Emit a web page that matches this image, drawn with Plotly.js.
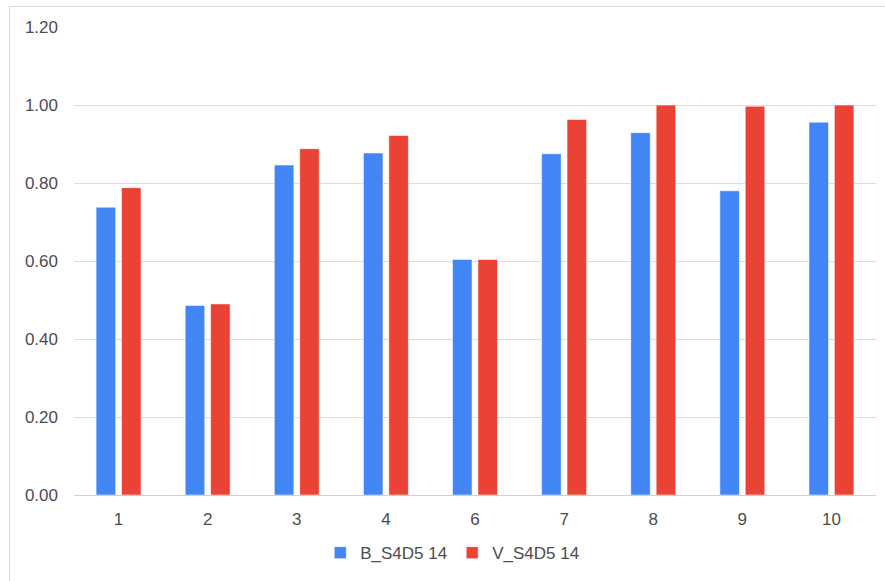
<!DOCTYPE html>
<html>
<head>
<meta charset="utf-8">
<script src="https://cdn.plot.ly/plotly-3.0.1.min.js"></script>
<style>
html,body{margin:0;padding:0;background:#fff;}
#wrap{position:relative;width:885px;height:581px;overflow:hidden;}
#frame{position:absolute;left:9px;top:6px;width:900px;height:620px;border:1px solid #d9d9d9;box-sizing:border-box;}
#chart{position:absolute;left:0;top:0;width:885px;height:581px;}
</style>
</head>
<body>
<div id="wrap"><div id="frame"></div><div id="chart"></div></div>
<script>
const categories = ["1","2","3","4","6","7","8","9","10"];
const seriesB = [0.738, 0.486, 0.846, 0.877, 0.604, 0.875, 0.929, 0.780, 0.956];
const seriesV = [0.788, 0.490, 0.888, 0.922, 0.604, 0.963, 1.000, 0.997, 1.000];
const seriesNames = ["B_S4D5 14", "V_S4D5 14"];
const yTicks = [0, 0.2, 0.4, 0.6, 0.8, 1.0, 1.2];
const yTickText = ["0.00", "0.20", "0.40", "0.60", "0.80", "1.00", "1.20"];

const font = {family: "Liberation Sans, Arial, sans-serif", size: 17, color: "#4d4d4d"};
const traces = [
  {type: "bar", name: seriesNames[0], x: categories, y: seriesB,
   marker: {color: "#4285F4", line: {color: "rgba(255,255,255,0.55)", width: 1}}},
  {type: "bar", name: seriesNames[1], x: categories, y: seriesV,
   marker: {color: "#EA4335", line: {color: "rgba(255,255,255,0.55)", width: 1}}}
];
const layout = {
  width: 885, height: 581,
  margin: {l: 74, r: 9, t: 27, b: 85.5, pad: 0, autoexpand: false},
  paper_bgcolor: "rgba(0,0,0,0)", plot_bgcolor: "rgba(0,0,0,0)",
  font: font,
  barmode: "group", bargap: 0.43, bargroupgap: 0.23,
  xaxis: {type: "category", tickfont: font, showgrid: false, zeroline: false, showline: false, ticks: "", ticklabelstandoff: 12, automargin: false},
  yaxis: {range: [0, 1.2], tickvals: yTicks, ticktext: yTickText, tickfont: font,
          showgrid: true, gridcolor: "#dcdcdc", gridwidth: 1, zeroline: true, zerolinecolor: "#d0d0d0", zerolinewidth: 1,
          showline: false, ticks: "", ticklabelstandoff: 15, automargin: false},
  showlegend: true,
  legend: {orientation: "h", xref: "container", yref: "container", x: 0.511, xanchor: "center", y: 0.048, yanchor: "middle",
           font: font, itemwidth: 30, tracegroupgap: 0, bgcolor: "rgba(0,0,0,0)"}
};
Plotly.newPlot("chart", traces, layout, {displayModeBar: false, staticPlot: true});
</script>
</body>
</html>
